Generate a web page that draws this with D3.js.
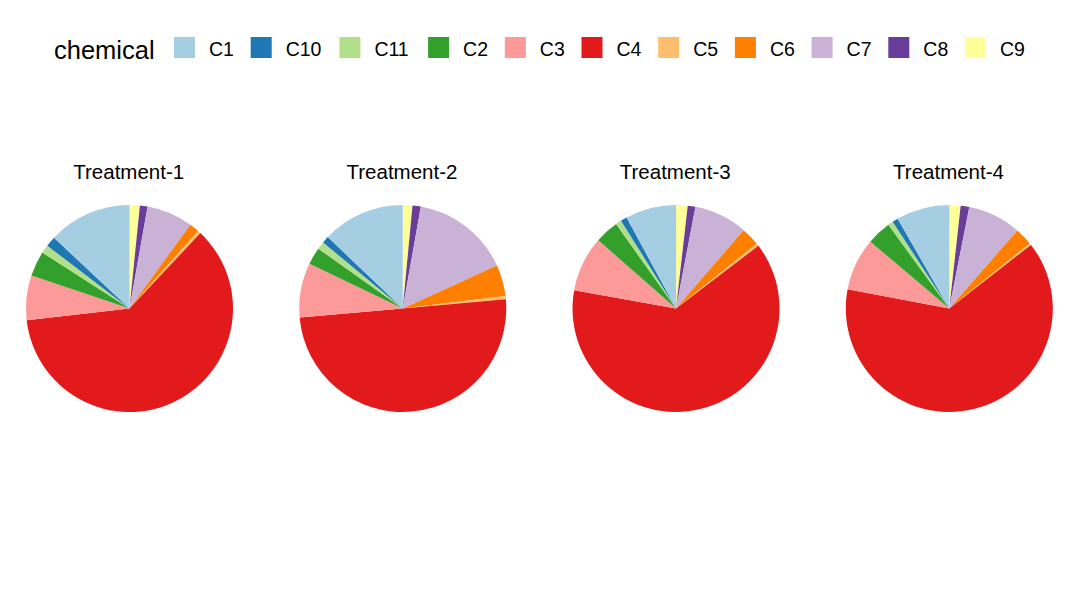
<!DOCTYPE html>
<html>
<head>
<meta charset="utf-8">
<script src="https://cdn.jsdelivr.net/npm/d3@7/dist/d3.min.js"></script>
<style>
  html, body { margin: 0; padding: 0; background: #ffffff; }
  svg { display: block; font-family: "Liberation Sans", Arial, sans-serif; }
</style>
</head>
<body>
<script>
// ---- data (percent shares, legend order) ----
const chemicals = ["C1", "C10", "C11", "C2", "C3", "C4", "C5", "C6", "C7", "C8", "C9"];
const treatments = ["Treatment-1", "Treatment-2", "Treatment-3", "Treatment-4"];
const treatment1 = [13.0, 1.6, 1.3, 3.9, 7.0, 61.1, 0.5, 1.5, 7.2, 1.2, 1.6];
const treatment2 = [12.9, 1.1, 1.2, 2.7, 8.5, 50.1, 0.5, 4.9, 15.4, 1.3, 1.5];
const treatment3 = [7.9, 1.0, 0.9, 3.7, 8.6, 63.0, 0.4, 2.9, 8.3, 1.2, 1.8];
const treatment4 = [8.3, 0.9, 0.8, 3.8, 8.2, 63.4, 0.3, 2.75, 8.3, 1.35, 1.75];
const colors = ["#A6CEE3", "#1F78B4", "#B2DF8A", "#33A02C", "#FB9A99", "#E31A1C",
                "#FDBF6F", "#FF7F00", "#CAB2D6", "#6A3D9A", "#FFFF99"];

const seriesByTreatment = [treatment1, treatment2, treatment3, treatment4];

const W = 1080, H = 599;
const svg = d3.select("body").append("svg").attr("width", W).attr("height", H);

const color = d3.scaleOrdinal().domain(chemicals).range(colors);
const xPos = d3.scalePoint().domain(treatments).range([129.5, 949.3]);
const cy = 308.5, radius = 103.5;

// ---- legend ----
const legend = svg.append("g");
legend.append("text").attr("x", 54).attr("y", 58.5)
  .attr("font-size", 25.5).attr("fill", "#000").text("chemical");
let lx = 174;
chemicals.forEach(c => {
  legend.append("rect").attr("x", lx).attr("y", 37).attr("width", 21).attr("height", 21)
    .attr("fill", color(c));
  legend.append("text").attr("x", lx + 35).attr("y", 56)
    .attr("font-size", 19.5).attr("fill", "#000").text(c);
  lx += c.length === 2 ? 76.7 : 88.7;
});

// ---- pies ----
const pie = d3.pie().sort(null).value(d => d.value).startAngle(0).endAngle(2 * Math.PI);
const arc = d3.arc().innerRadius(0).outerRadius(radius);

treatments.forEach((t, i) => {
  const vals = seriesByTreatment[i];
  // clockwise from 12 o'clock: reverse legend order (C9 first, C1 last)
  const data = chemicals.map((c, j) => ({ key: c, value: vals[j] })).reverse();
  const g = svg.append("g").attr("transform", `translate(${xPos(t)},${cy})`);
  g.selectAll("path").data(pie(data)).join("path")
    .attr("d", arc)
    .attr("fill", d => color(d.data.key));
  svg.append("text").attr("x", xPos(t) - 0.8).attr("y", 179)
    .attr("text-anchor", "middle").attr("font-size", 20.5).attr("fill", "#000").text(t);
});
</script>
</body>
</html>
